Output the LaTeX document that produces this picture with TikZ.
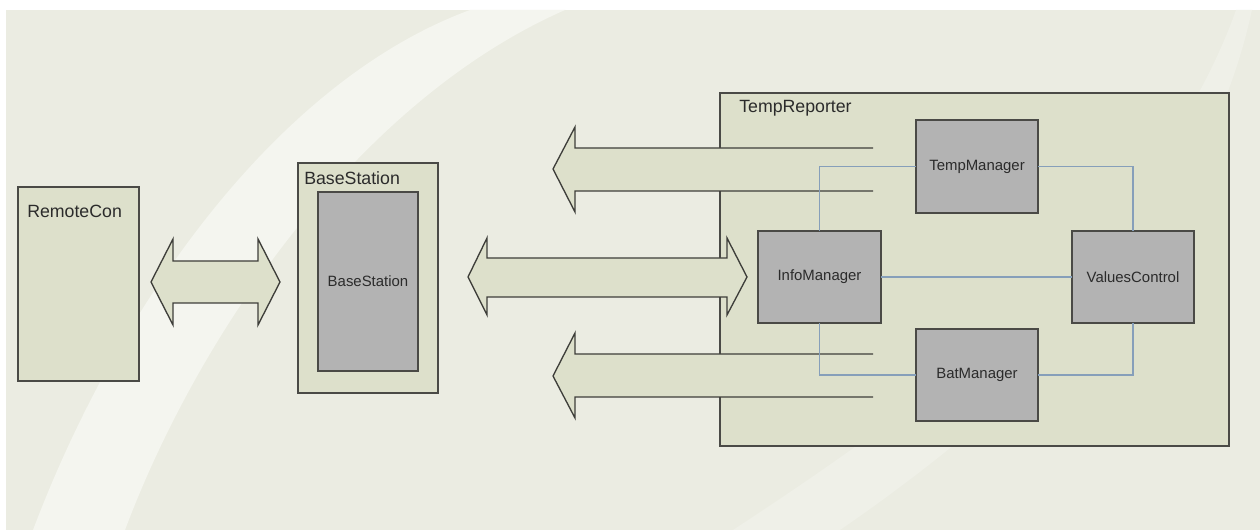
\documentclass[tikz,border=0pt]{standalone}
\usepackage{fontspec}
\setmainfont{Liberation Sans}
\usetikzlibrary{shadows}
\definecolor{bgbase}{HTML}{EBECE2}
\definecolor{swoosh}{HTML}{F4F5EF}
\definecolor{swooshb}{HTML}{EFF0E8}
\definecolor{panel}{HTML}{DDE0CB}
\definecolor{modgray}{HTML}{B3B3B3}
\definecolor{boxline}{HTML}{4A4A46}
\definecolor{arrowline}{HTML}{3E3E3A}
\definecolor{wireblue}{HTML}{869FBA}
\definecolor{ink}{HTML}{2B2B2B}
\begin{document}
\begin{tikzpicture}[x=0.75pt,y=-0.75pt,
  container/.style={draw=boxline, fill=panel, line width=1pt, inner sep=0pt, outer sep=0pt,
    drop shadow={shadow xshift=0.7pt, shadow yshift=-0.7pt, opacity=0.35}},
  module/.style={draw=boxline, fill=modgray, line width=1.4pt, inner sep=0pt, outer sep=0pt,
    font=\fontsize{11.2}{13}\selectfont, text=ink,
    drop shadow={shadow xshift=0.7pt, shadow yshift=-0.7pt, opacity=0.45}},
  title/.style={anchor=west, inner sep=0pt, font=\fontsize{13.3}{15}\selectfont, text=ink},
  fat/.style={draw=arrowline, fill=panel, line width=1pt, miter limit=20},
  wire/.style={draw=wireblue, line width=0.8pt}]

% page and background
\useasboundingbox (0,0) rectangle (1260,530);
\fill[white] (0,0) rectangle (1260,530);
\fill[bgbase] (6,10) rectangle (1260,530);
% light swooshes across the background
\fill[swoosh] (470,10) .. controls (280,80) and (120,300) .. (33,530)
  -- (125,530) .. controls (200,330) and (360,100) .. (565,10) -- cycle;
\fill[swooshb] (733,530) .. controls (900,420) and (1150,250) .. (1236,10)
  -- (1252,10) .. controls (1200,250) and (1000,420) .. (840,530) -- cycle;

% outer components
\node[container, minimum width=90.75pt, minimum height=145.5pt] (remote) at (78.5,284) {};
\node[title] (remotelbl) at (27,211) {RemoteCon};

\node[container, minimum width=105pt, minimum height=172.5pt] (base) at (368,278) {};
\node[title] (baselbl) at (304,178) {BaseStation};
\node[module, minimum width=75pt, minimum height=134.25pt] (baseinner) at (368,281.5) {BaseStation};

\node[container, minimum width=381.75pt, minimum height=264.75pt] (temprep) at (974.5,269.5) {};
\node[title] (temprepl) at (739,108) {TempReporter};

% wide interface arrows
\draw[fat] (151,282) -- (173,239) -- (173,261) -- (258,261) -- (258,239) -- (280,282)
  -- (258,325) -- (258,303) -- (173,303) -- (173,325) -- cycle;
\draw[fat] (468,277) -- (487,238) -- (487,258) -- (727,258) -- (727,238) -- (747,277)
  -- (727,315) -- (727,297) -- (487,297) -- (487,315) -- cycle;
\draw[fat] (873,148) -- (575,148) -- (575,127) -- (553,169) -- (575,212) -- (575,191) -- (873,191);
\draw[fat] (873,354) -- (575,354) -- (575,333) -- (553,376) -- (575,418) -- (575,397) -- (873,397);

% TempReporter modules
\node[module, minimum width=91.5pt, minimum height=69.75pt] (tempm) at (977,166.5) {TempManager};
\node[module, minimum width=92.25pt, minimum height=69pt] (info) at (819.5,277) {InfoManager};
\node[module, minimum width=91.5pt, minimum height=69pt] (values) at (1133,277) {ValuesControl};
\node[module, minimum width=91.5pt, minimum height=69pt] (batm) at (977,375) {BatManager};

% internal links
\draw[wire] (info.north) |- (tempm.west);
\draw[wire] (tempm.east) -| (values.north);
\draw[wire] (info.east) -- (values.west);
\draw[wire] (info.south) |- (batm.west);
\draw[wire] (batm.east) -| (values.south);
\end{tikzpicture}
\end{document}
